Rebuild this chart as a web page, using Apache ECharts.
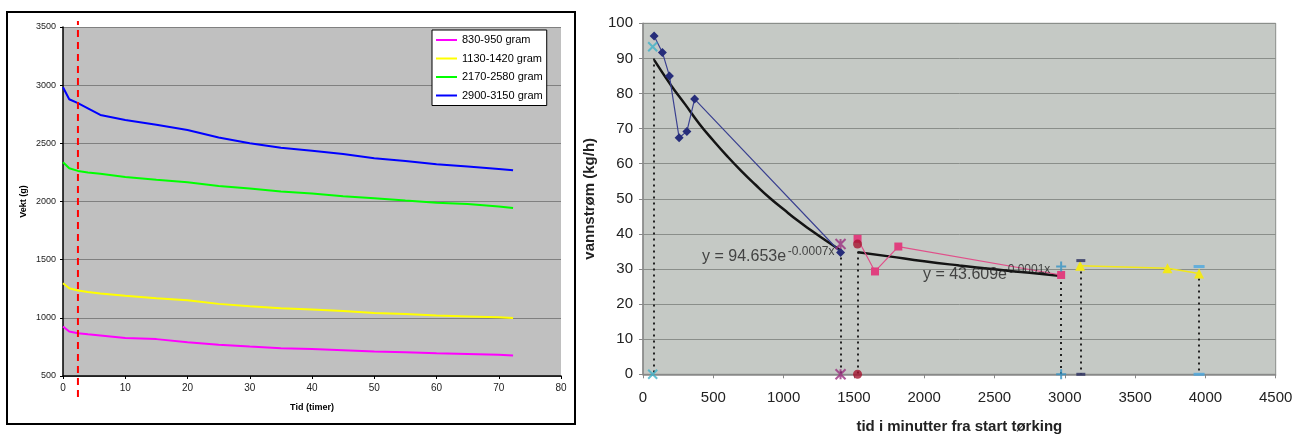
<!DOCTYPE html>
<html><head><meta charset="utf-8">
<script src="https://cdn.jsdelivr.net/npm/echarts@6/dist/echarts.min.js"></script>
<style>html,body{margin:0;padding:0;background:#fff}#c{width:1292px;height:434px}</style>
</head><body><div id="c"></div>
<script>
// ---------- Left chart data ----------
const hours = [0,1,2.4,4,6,10,15,20,25,30,35,40,45,50,55,60,65,70,72.3];
const s830  = [925,882,868,858,848,826,817,791,768,753,739,732,722,711,705,696,690,682,676];
const s1130 = [1298,1255,1235,1222,1210,1189,1169,1152,1120,1100,1082,1072,1058,1042,1032,1020,1012,1004,998];
const s2170 = [2338,2286,2263,2250,2238,2211,2186,2166,2134,2111,2085,2068,2045,2028,2008,1990,1978,1958,1945];
const s2900 = [2982,2879,2845,2800,2744,2700,2660,2615,2550,2501,2463,2437,2409,2372,2349,2320,2300,2280,2269];
const leftNames = ['830-950 gram','1130-1420 gram','2170-2580 gram','2900-3150 gram'];
const refLineHour = 2.4;

// ---------- Right chart data ----------
const navyX = [79,138,188,257,312,367,1405];
const navyY = [96.4,91.7,85,67.4,69.2,78.4,34.7];
const pinkX = [1526,1650,1816,2974];
const pinkY = [38.6,29.3,36.4,28.3];
const yellowX = [3109,3730,3955];
const yellowY = [30.9,30.2,28.7];
const trend1X = [80,200,300,400,500,600,700,800,900,1000,1100,1200,1300,1405];
const trend1Y = [89.5,82.3,76.9,71.4,66.6,62.1,57.9,54.0,50.3,47.0,43.8,40.9,38.1,35.3];
const trend2X = [1530,1750,2000,2250,2500,2750,2975];
const trend2Y = [34.8,33.6,32.2,31.0,29.9,28.9,28.0];
const dropX = [79,1405,1526,2974,3114,3955];
const dropTop = [90,35,35,28,31,29];
const crossX = [69,69],      crossY = [93.3,0];
const starX = [1405,1405],   starY = [37.1,0];
const circX = [1526,1526],   circY = [37.1,0];
const plusX = [2974,2974],   plusY = [30.7,0];
const dashX = [3114,3114],   dashY = [32.4,0];
const dash2X = [3955,3955],  dash2Y = [30.7,0];
const eqX = [420,1030,1991,2565];
const eqY = [33.5,34.8,28.4,29.8];
const eqText = ['y = 94.653e','-0.0007x','y = 43.609e','-0.0001x'];
const eqSup = [false,true,false,true];

const FONT = 'Liberation Sans, Arial, sans-serif';
const zip = (xs, ys) => xs.map((x,i)=>[x, ys[i]]);
const plain = v => String(v);

const chart = echarts.init(document.getElementById('c'));
const leftColors = ['#ff00ff','#ffff00','#00ff00','#0000ff'];
const leftData = [s830,s1130,s2170,s2900];

function marker(name, xs, ys, symbol, size, color, stroke) {
  return {
    name, type:'scatter', xAxisIndex:1, yAxisIndex:1, symbol, symbolSize:size,
    data: zip(xs, ys), z:5,
    itemStyle: stroke ? {color:color, borderColor:color, borderWidth:2} : {color:color}
  };
}

const option = {
  animation:false,
  textStyle:{fontFamily:FONT},
  graphic:[{
    type:'rect', shape:{x:7,y:12,width:568,height:412},
    style:{fill:'none', stroke:'#000', lineWidth:2}, z:-1
  }],
  legend:{
    data: leftNames, orient:'vertical', left:432, top:30,
    backgroundColor:'#fff', borderColor:'#000', borderWidth:1,
    padding:[4,4,4,4], itemGap:6.5, itemWidth:21, itemHeight:2,
    icon:'rect',
    textStyle:{fontFamily:FONT, fontSize:11, color:'#000', lineHeight:12}
  },
  grid:[
    {left:63, top:27, width:498, height:349, show:true, backgroundColor:'#c0c0c0', borderWidth:0, outerBoundsMode:'none', containLabel:false},
    {left:643, top:23.3, width:632.7, height:351, show:true, backgroundColor:'#c5c9c5', borderColor:'#8a8e8a', borderWidth:1, outerBoundsMode:'none', containLabel:false},
    {left:63, top:21, width:498, height:376, show:false, outerBoundsMode:'none', containLabel:false}
  ],
  xAxis:[
    {gridIndex:0, type:'value', min:0, max:80, interval:10,
     name:'Tid (timer)', nameLocation:'middle', nameGap:27,
     nameTextStyle:{fontFamily:FONT, fontSize:9, fontWeight:'bold', color:'#000'},
     axisLine:{lineStyle:{color:'#000', width:1.5}}, axisTick:{length:3, lineStyle:{color:'#000'}},
     axisLabel:{fontSize:10, color:'#222', margin:7, formatter:plain}, splitLine:{show:false}},
    {gridIndex:1, type:'value', min:0, max:4500, interval:500,
     name:'tid i minutter fra start tørking', nameLocation:'middle', nameGap:45,
     nameTextStyle:{fontFamily:FONT, fontSize:15, fontWeight:'bold', color:'#222'},
     axisLine:{lineStyle:{color:'#888', width:1.5}}, axisTick:{length:4, lineStyle:{color:'#888'}},
     axisLabel:{fontSize:15, color:'#222', margin:16, formatter:plain}, splitLine:{show:false}},
    {gridIndex:2, type:'value', min:0, max:80, show:false}
  ],
  yAxis:[
    {gridIndex:0, type:'value', min:500, max:3500, interval:500,
     name:'Vekt (g)', nameLocation:'middle', nameGap:35,
     nameTextStyle:{fontFamily:FONT, fontSize:9, fontWeight:'bold', color:'#000'},
     axisLine:{show:true, lineStyle:{color:'#000', width:1.5}}, axisTick:{show:true, length:3, lineStyle:{color:'#000'}},
     axisLabel:{fontSize:9, color:'#222', margin:7, formatter:plain},
     splitLine:{lineStyle:{color:'#808080', width:1}}},
    {gridIndex:1, type:'value', min:0, max:100, interval:10,
     name:'vannstrøm (kg/h)', nameLocation:'middle', nameGap:46,
     nameTextStyle:{fontFamily:FONT, fontSize:15, fontWeight:'bold', color:'#222'},
     axisLine:{show:true, lineStyle:{color:'#888', width:1.5}}, axisTick:{show:true, length:4, lineStyle:{color:'#888'}},
     axisLabel:{fontSize:15, color:'#222', margin:10, formatter:plain},
     splitLine:{lineStyle:{color:'#8a8e8a', width:1}}},
    {gridIndex:2, type:'value', min:0, max:1, show:false}
  ],
  series:[]
};

leftNames.forEach((n,i)=>{
  option.series.push({
    name:n, type:'line', xAxisIndex:0, yAxisIndex:0, showSymbol:false, symbol:'none',
    data: zip(hours, leftData[i]), color:leftColors[i],
    lineStyle:{color:leftColors[i], width:2}
  });
});
option.series.push({
  name:'ref', type:'line', xAxisIndex:2, yAxisIndex:2, symbol:'none',
  data:[[refLineHour,0],[refLineHour,1]],
  lineStyle:{color:'#ff0000', width:2, type:[7,5]}, z:4
});

// right chart
option.series.push({
  name:'drop', type:'lines', coordinateSystem:'cartesian2d', xAxisIndex:1, yAxisIndex:1,
  data: dropX.map((x,i)=>({coords:[[x,dropTop[i]],[x,0]]})),
  lineStyle:{color:'#222', width:2, type:[2,4], opacity:1}, z:2
});
option.series.push({
  name:'trend1', type:'line', xAxisIndex:1, yAxisIndex:1, symbol:'none', smooth:true,
  data: zip(trend1X, trend1Y), lineStyle:{color:'#141414', width:2.5}, z:3
});
option.series.push({
  name:'trend2', type:'line', xAxisIndex:1, yAxisIndex:1, symbol:'none', smooth:true,
  data: zip(trend2X, trend2Y), lineStyle:{color:'#141414', width:2.5}, z:3
});
option.series.push({
  name:'navy', type:'line', xAxisIndex:1, yAxisIndex:1, symbol:'diamond', symbolSize:9,
  data: zip(navyX, navyY), itemStyle:{color:'#262d7a'}, lineStyle:{color:'#3a4090', width:1.2}, z:4
});
option.series.push({
  name:'pink', type:'line', xAxisIndex:1, yAxisIndex:1, symbol:'rect', symbolSize:8,
  data: zip(pinkX, pinkY), itemStyle:{color:'#e0407f'}, lineStyle:{color:'#e0508a', width:1.2}, z:4
});
option.series.push({
  name:'yellow', type:'line', xAxisIndex:1, yAxisIndex:1, symbol:'triangle', symbolSize:10,
  data: zip(yellowX, yellowY), itemStyle:{color:'#f2e81a'}, lineStyle:{color:'#f2e81a', width:1.5}, z:4
});
option.series.push(marker('cross', crossX, crossY, 'path://M0,0L10,10M10,0L0,10', 9, '#3fb2c8', true));
option.series.push(marker('star', starX, starY, 'path://M0,0L10,10M10,0L0,10M5,0L5,10', 10, '#9a2f80', true));
option.series.push(marker('circ', circX, circY, 'circle', 9, '#a51530', false));
option.series.push(marker('plus', plusX, plusY, 'path://M5,0L5,10M0,5L10,5', 10, '#3494c4', true));
option.series.push(marker('dash', dashX, dashY, 'rect', [9,3], '#2a2f60', false));
option.series.push(marker('dash2', dash2X, dash2Y, 'rect', [11,3], '#4aa8e0', false));
option.series.push({
  name:'eq', type:'scatter', xAxisIndex:1, yAxisIndex:1, symbolSize:0, z:6,
  data: eqX.map((x,i)=>({value:[x,eqY[i]], label:{
    show:true, position:'right', distance:0, formatter:eqText[i],
    fontFamily:FONT, fontSize: eqSup[i] ? 12 : 16, color:'#222'
  }})),
  silent:true
});

chart.setOption(option);
</script></body></html>
